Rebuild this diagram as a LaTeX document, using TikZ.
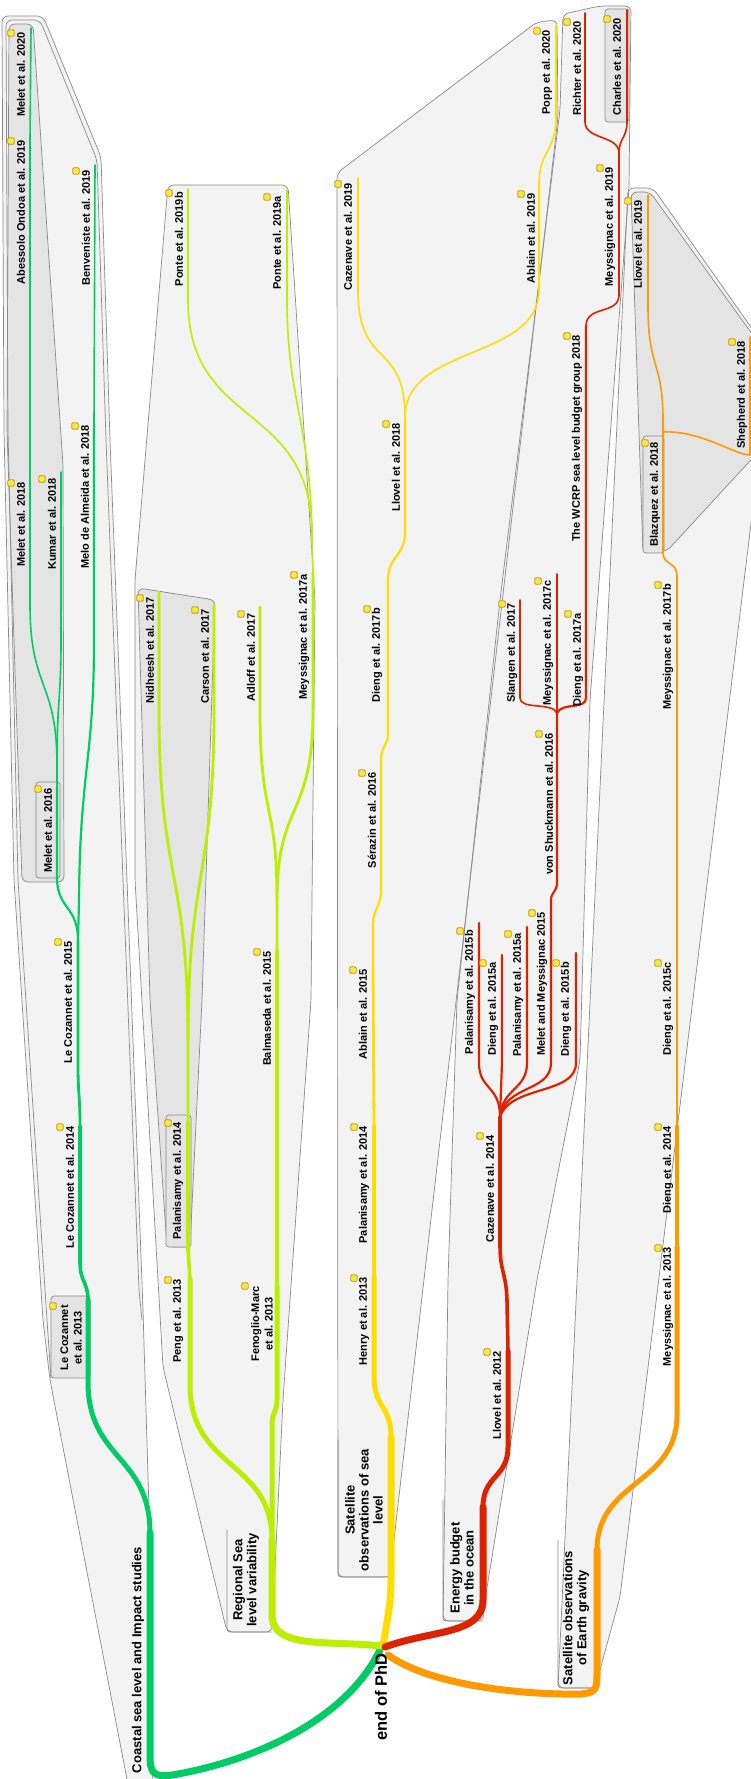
\documentclass[tikz,border=0pt]{standalone}
\usepackage{fontspec}
\setmainfont{Liberation Sans}
\definecolor{cgreen}{HTML}{00CC66}
\definecolor{clime}{HTML}{BBEE00}
\definecolor{cyel}{HTML}{FFDD00}
\definecolor{cred}{HTML}{DD2200}
\definecolor{corange}{HTML}{FF9900}
\definecolor{rfill}{HTML}{F3F3F3}
\definecolor{dfill}{HTML}{E4E4E4}
\definecolor{rline}{HTML}{8A8A8A}
\definecolor{ifill}{HTML}{F4E84C}
\definecolor{iline}{HTML}{C49A00}
\newcommand{\paper}[4]{%
  \node[leaf] (#1) at (#2,#3) {#4};
  \node[icon] (#1i) at ({#2-10},{#3+1}) {};
}
\begin{document}
\begin{tikzpicture}[x=1pt,y=-1pt,line cap=round,line join=round,
  leaf/.style={rotate=90,anchor=east,inner sep=0pt,font=\fontsize{11}{13}\selectfont\bfseries},
  twoline/.style={rotate=90,align=center,inner sep=0pt,font=\fontsize{11}{13.5}\selectfont\bfseries},
  lab/.style={rotate=90,align=center,inner sep=0pt,font=\fontsize{13}{14}\selectfont\bfseries},
  icon/.style={draw=iline,fill=ifill,line width=0.8pt,rounded corners=1.2pt,minimum size=6.5pt,inner sep=0pt},
  rb/.style={draw=rline,line width=0.7pt,rounded corners=6pt},
  nbox/.style={draw=rline,fill=dfill,line width=0.7pt,rounded corners=3pt},
  lbox/.style={draw=rline,line width=0.7pt,rounded corners=3pt},
  wa/.style={line width=7pt},
  wb/.style={line width=5pt},
  wc/.style={line width=3.6pt},
  wd/.style={line width=2.8pt},
  we/.style={line width=2.2pt},
  wf/.style={line width=1.6pt}]
\useasboundingbox (0,0) rectangle (751,1779);
\fill[white] (0,0) rectangle (751,1779);

% ---------- region fills ----------
\fill[rfill,rounded corners=6pt] (2,16) -- (43,16) -- (101,157) -- (110,440) -- (127,880) -- (143,1310) -- (149,1510) -- (153,1800) -- (131,1800) -- (50,1380) -- (43,1320) -- (14,880) -- (4,430) -- cycle;
\fill[rfill,rounded corners=6pt] (168,185) -- (288,185) -- (315,600) -- (311,1000) -- (283,1400) -- (272,1632) -- (227,1632) -- (163,1367) -- (135,880) -- (135,580) -- cycle;
\fill[rfill,rounded corners=6pt] (337,173) -- (537,22) -- (557,20) -- (558,117) -- (392,1557) -- (391,1577) -- (338,1577) -- cycle;
\fill[rfill,rounded corners=6pt] (563,14) -- (600,6) -- (631,6) -- (629,188) -- (590,700) -- (580,1060) -- (537,1280) -- (485,1600) -- (483,1621) -- (443,1621) -- (448,1280) -- (457,1000) -- (500,600) -- (560,110) -- cycle;
\fill[rfill,rounded corners=6pt] (628,188) -- (653,188) -- (760,340) -- (760,450) -- (620,1597) -- (598,1677) -- (597,1688) -- (558,1688) -- cycle;
\fill[dfill,rounded corners=6pt] (9,24) -- (33,24) -- (63,465) -- (64,882) -- (22,882) -- (7,430) -- cycle;
\fill[dfill,rounded corners=6pt] (138,588) -- (215,600) -- (202,1000) -- (190,1247) -- (167,1247) -- (150,1000) -- cycle;
\fill[dfill,rounded corners=6pt] (631,192) -- (650,192) -- (760,345) -- (760,450) -- (667,551) -- (643,553) -- cycle;

% ---------- region borders ----------
\draw[rb] (2,16) -- (43,16) -- (101,157) -- (110,440) -- (127,880) -- (143,1310) -- (149,1510) -- (153,1800) -- (131,1800) -- (50,1380) -- (43,1320) -- (14,880) -- (4,430) -- cycle;
\draw[rb] (51,1378) -- (47,1320) -- (18,880) -- (8,430) -- (6,20) -- (40,20) -- (97,160) -- (106,440) -- (123,880) -- (139,1290) -- (142,1320);
\draw[rb] (168,185) -- (288,185) -- (315,600) -- (311,1000) -- (283,1400) -- (272,1632) -- (227,1632) -- (163,1367) -- (135,880) -- (135,580) -- cycle;
\draw[rb] (337,173) -- (537,22) -- (557,20) -- (558,117) -- (392,1557) -- (391,1577) -- (338,1577) -- cycle;
\draw[rb] (563,14) -- (600,6) -- (631,6) -- (629,188) -- (590,700) -- (580,1060) -- (537,1280) -- (485,1600) -- (483,1621) -- (443,1621) -- (448,1280) -- (457,1000) -- (500,600) -- (560,110) -- cycle;
\draw[rb] (628,188) -- (653,188) -- (760,340) -- (760,450) -- (620,1597) -- (598,1677) -- (597,1688) -- (558,1688) -- cycle;
\draw[rb] (9,24) -- (33,24) -- (63,465) -- (64,882) -- (22,882) -- (7,430) -- cycle;
\draw[rb] (138,588) -- (215,600) -- (202,1000) -- (190,1247) -- (167,1247) -- (150,1000) -- cycle;
\draw[rb] (631,192) -- (650,192) -- (760,345) -- (760,450) -- (667,551) -- (643,553) -- cycle;

% ---------- node boxes ----------
\draw[nbox] (51,1296) rectangle (90,1378);
\draw[nbox] (36,782) rectangle (60,878);
\draw[nbox] (166,1115) rectangle (191,1247);
\draw[nbox] (605,9) rectangle (629,122);
\draw[nbox] (643,436) rectangle (664,553);
% label boxes
\draw[lbox] (227,1530) -- (227,1632) -- (272,1632);
\draw[lbox] (338,1440) -- (338,1577) -- (391,1577);
\draw[lbox] (443,1500) -- (443,1621) -- (483,1621);
\draw[lbox] (558,1540) -- (558,1688) -- (597,1688);

% ---------- green branch ----------
\draw[cgreen,wa] (380,1650) .. controls (345,1722) and (250,1762) .. (172,1775) .. controls (153,1778) and (150,1772) .. (150,1755) -- (150,1533);
\draw[cgreen,wb] (150,1533) .. controls (150,1455) and (88,1460) .. (88,1382) -- (88,1300);
\draw[cgreen,wc] (88,1300) .. controls (88,1282) and (80,1282) .. (80,1262) -- (80,1126);
\draw[cgreen,wd] (80,1126) .. controls (80,1095) and (78,1095) .. (78,1065) -- (78,941);
\draw[cgreen,we] (78,941) .. controls (78,905) and (57,910) .. (57,877) -- (57,788);
\draw[cgreen,we] (78,941) -- (79,900) .. controls (80,770) and (94,760) .. (94,640) -- (94,425);
\draw[cgreen,wf] (94,425) -- (95,165);
\draw[cgreen,wf] (57,788) -- (57,765) .. controls (57,700) and (61,700) .. (61,640) -- (61,472);
\draw[cgreen,wf] (57,765) .. controls (57,680) and (30,690) .. (30,605) -- (30,482);
\draw[cgreen,wf] (30,482) -- (30,140) -- (31,28);

% ---------- lime branch ----------
\draw[clime,wa] (381,1646) .. controls (330,1640) and (272,1650) .. (272,1615) -- (272,1540);
\draw[clime,wb] (272,1540) .. controls (272,1460) and (190,1470) .. (190,1385) -- (190,1279);
\draw[clime,wb] (272,1540) -- (272,1425) .. controls (272,1412) and (277,1412) .. (277,1400) -- (277,1286);
\draw[clime,wc] (190,1279) -- (188,1250) -- (188,1122);
\draw[clime,wd] (188,1122) -- (188,1040) .. controls (188,870) and (159,880) .. (159,710) -- (159,592);
\draw[clime,wd] (188,1040) .. controls (188,870) and (214,880) .. (214,710) -- (214,605);
\draw[clime,wc] (277,1286) -- (277,951);
\draw[clime,wd] (277,951) -- (277,900) .. controls (277,800) and (260,820) .. (260,710) -- (260,607);
\draw[clime,wd] (277,900) .. controls (277,800) and (313,820) .. (313,710) -- (313,572);
\draw[clime,wf] (313,572) -- (312,535) .. controls (312,400) and (188,430) .. (188,300) -- (188,189);
\draw[clime,wf] (312,535) .. controls (310,420) and (287,400) .. (287,300) -- (287,190);

% ---------- yellow branch ----------
\draw[cyel,wa] (383,1646) .. controls (387,1620) and (391,1605) .. (391,1580) -- (391,1437);
\draw[cyel,wb] (391,1437) .. controls (391,1405) and (374,1408) .. (374,1377) -- (374,1277);
\draw[cyel,wc] (374,1277) -- (374,1126);
\draw[cyel,wd] (374,1126) -- (373,969);
\draw[cyel,we] (373,969) -- (373,925) .. controls (373,908) and (381,908) .. (381,890) -- (381,772);
\draw[cyel,we] (381,772) -- (381,760) .. controls (381,746) and (388,746) .. (388,733) -- (388,608);
\draw[cyel,we] (388,608) -- (388,580) .. controls (388,556) and (405,556) .. (405,533) -- (405,423);
\draw[cyel,wf] (405,423) -- (405,417) .. controls (405,340) and (358,370) .. (358,290) -- (358,178);
\draw[cyel,wf] (405,417) .. controls (405,345) and (539,360) .. (539,290) -- (539,193);
\draw[cyel,wf] (539,193) -- (539,185) .. controls (539,150) and (556,152) .. (556,117) -- (556,25);

% ---------- red branch ----------
\draw[cred,wa] (385,1647) .. controls (430,1630) and (483,1635) .. (483,1600) -- (483,1507);
\draw[cred,wb] (483,1507) .. controls (483,1475) and (508,1478) .. (508,1447) -- (508,1351);
\draw[cred,wc] (508,1351) -- (507,1300) .. controls (506,1272) and (500,1272) .. (500,1245) -- (500,1117);
\draw[cred,we] (500,1117) .. controls (500,1085) and (479,1090) .. (479,1063) -- (479,923);
\draw[cred,we] (500,1117) -- (502,1063) -- (502,955);
\draw[cred,we] (500,1117) .. controls (502,1088) and (527,1090) .. (527,1063) -- (527,927);
\draw[cred,we] (500,1117) .. controls (505,1085) and (551,1092) .. (551,1063) -- (551,912);
\draw[cred,we] (500,1117) .. controls (510,1085) and (576,1095) .. (576,1063) -- (576,953);
\draw[cred,we] (551,912) -- (551,900) .. controls (551,892) and (557,892) .. (557,883) -- (557,713);
\draw[cred,wf] (557,713) .. controls (552,702) and (520,710) .. (520,698) -- (520,600);
\draw[cred,wf] (557,713) -- (557,574);
\draw[cred,we] (557,713) .. controls (562,702) and (586,710) .. (586,698) -- (586,326);
\draw[cred,wf] (586,326) .. controls (586,305) and (619,315) .. (619,295) -- (619,153);
\draw[cred,wf] (619,153) .. controls (619,135) and (585,140) .. (585,122) -- (585,13);
\draw[cred,wf] (619,153) .. controls (619,138) and (627,138) .. (627,122) -- (627,10);

% ---------- orange branch ----------
\draw[corange,wa] (388,1655) .. controls (430,1685) and (520,1695) .. (580,1694) .. controls (597,1693) and (597,1688) .. (597,1672) -- (597,1550);
\draw[corange,wb] (597,1550) .. controls (597,1480) and (677,1485) .. (677,1415) -- (677,1247);
\draw[corange,wc] (677,1247) -- (677,1126);
\draw[corange,wd] (677,1126) -- (677,962);
\draw[corange,we] (677,962) -- (677,584);
\draw[corange,wf] (677,584) -- (677,575) .. controls (677,562) and (663,565) .. (663,553) -- (663,442);
\draw[corange,wf] (663,442) -- (663,421) .. controls (663,360) and (648,370) .. (648,306) -- (648,195);
\draw[corange,wf] (663,432) .. controls (700,430) and (735,455) .. (750,455) -- (750,337);

% ---------- labels ----------
\node[rotate=90,inner sep=0pt,font=\fontsize{16.5}{18}\selectfont\bfseries] (root) at (381,1697) {end of PhD};
\node[lab] (coastal) at (138,1660) {Coastal sea level and Impact studies};
\node[lab] (regional) at (246,1580) {Regional Sea\\level variability};
\node[lab] (satsl) at (364,1510) {Satellite\\observations of sea\\level};
\node[lab] (energy) at (462,1568) {Energy budget\\in the ocean};
\node[lab] (gravity) at (576,1618) {Satellite observations\\of Earth gravity};

% ---------- green leaves ----------
\paper{mel20}{21}{32}{Melet et al. 2020}
\paper{abe19}{21}{140}{Abessolo Ondoa et al. 2019}
\paper{mel18}{21}{482}{Melet et al. 2018}
\paper{kum18}{52}{478}{Kumar et al. 2018}
\paper{ben19}{86}{170}{Benveniste et al. 2019}
\paper{mda18}{85}{425}{Melo de Almeida et al. 2018}
\paper{mel16}{48}{788}{Melet et al. 2016}
\paper{lc15}{68}{941}{Le Cozannet et al. 2015}
\paper{lc14}{70}{1126}{Le Cozannet et al. 2014}
\node[twoline] (lc13) at (71,1338) {Le Cozannet\\et al. 2013};
\node[icon] (lc13i) at (53,1306) {};

% ---------- lime leaves ----------
\paper{pon19b}{179}{192}{Ponte et al. 2019b}
\paper{pon19a}{277}{196}{Ponte et al. 2019a}
\paper{nid17}{150}{597}{Nidheesh et al. 2017}
\paper{car17}{205}{609}{Carson et al. 2017}
\paper{adl17}{251}{613}{Adloff et al. 2017}
\paper{mey17a}{304}{574}{Meyssignac et al. 2017a}
\paper{bal15}{267}{951}{Balmaseda et al. 2015}
\paper{palr14}{178}{1122}{Palanisamy et al. 2014}
\paper{pen13}{178}{1279}{Peng et al. 2013}
\node[twoline] (fen13) at (262,1324) {Fenoglio-Marc\\et al. 2013};
\node[icon] (fen13i) at (245,1286) {};

% ---------- yellow leaves ----------
\paper{pop20}{547}{30}{Popp et al. 2020}
\paper{caz19}{348}{183}{Cazenave et al. 2019}
\paper{abl19}{531}{193}{Ablain et al. 2019}
\paper{llo18}{396}{423}{Llovel et al. 2018}
\paper{die17b}{377}{608}{Dieng et al. 2017b}
\paper{ser16}{372}{772}{Sérazin et al. 2016}
\paper{abl15}{363}{969}{Ablain et al. 2015}
\paper{pals14}{364}{1126}{Palanisamy et al. 2014}
\paper{hen13}{364}{1277}{Henry et al. 2013}

% ---------- red leaves ----------
\paper{ric20}{577}{21}{Richter et al. 2020}
\paper{cha20}{617}{18}{Charles et al. 2020}
\paper{mey19}{610}{167}{Meyssignac et al. 2019}
\paper{wcrp}{577}{335}{The WCRP sea level budget group 2018}
\paper{sla17}{512}{603}{Slangen et al. 2017}
\paper{mey17c}{548}{580}{Meyssignac et al. 2017c}
\paper{die17a}{578}{613}{Dieng et al. 2017a}
\paper{vsh16}{549}{733}{von Shuckmann et al. 2016}
\paper{pal15b}{470}{930}{Palanisamy et al. 2015b}
\paper{die15a}{493}{962}{Dieng et al. 2015a}
\paper{pal15a}{518}{933}{Palanisamy et al. 2015a}
\paper{mm15}{542}{912}{Melet and Meyssignac 2015}
\paper{die15b}{566}{962}{Dieng et al. 2015b}
\paper{caz14}{490}{1135}{Cazenave et al. 2014}
\paper{llo12}{497}{1351}{Llovel et al. 2012}

% ---------- orange leaves ----------
\paper{llo19}{638}{200}{Llovel et al. 2019}
\paper{she18}{742}{341}{Shepherd et al. 2018}
\paper{bla18}{655}{442}{Blazquez et al. 2018}
\paper{mey17b}{668}{584}{Meyssignac et al. 2017b}
\paper{die15c}{668}{962}{Dieng et al. 2015c}
\paper{die14}{668}{1126}{Dieng et al. 2014}
\paper{mey13}{668}{1247}{Meyssignac et al. 2013}
\end{tikzpicture}
\end{document}
